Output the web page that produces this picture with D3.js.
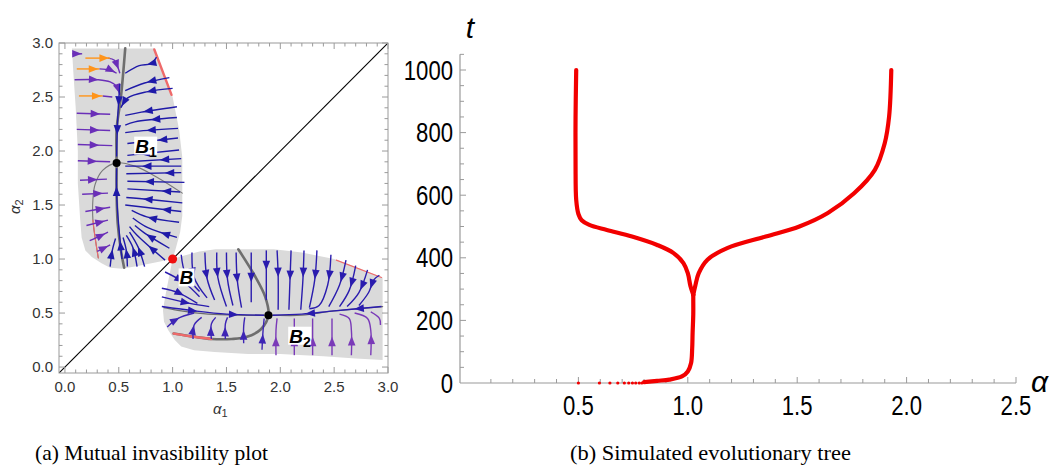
<!DOCTYPE html>
<html><head><meta charset="utf-8">
<script src="https://cdn.jsdelivr.net/npm/d3@7"></script>
<style>body{margin:0;background:#fff} svg{display:block} text{font-family:"Liberation Sans",Arial,sans-serif}</style>
</head><body><svg id="c" width="1052" height="465"></svg>
<script>
// ---------- Panel (a) data (alpha1, alpha2) ----------
const majorTicksA = [0, 0.5, 1.0, 1.5, 2.0, 2.5, 3.0];
const island = [[0.065,2.95],[0.83,2.95],[0.92,2.72],[1.0,2.5],[1.06,2.2],[1.09,1.94],[1.09,1.6],[1.09,1.4],[1.07,1.25],[1.03,1.1],[1.0,1.0],[0.85,0.97],[0.7,0.94],[0.53,0.91],[0.42,0.92],[0.34,0.96],[0.25,1.02],[0.19,1.08],[0.155,1.2],[0.14,1.39],[0.12,1.7],[0.12,2.0],[0.1,2.4],[0.08,2.7]];
const isoA = [[0.55,0.92],[0.52,1.08],[0.49,1.33],[0.48,1.6],[0.48,1.89],[0.48,2.2],[0.52,2.5],[0.56,2.95]];
const isoB = [[0.31,1.01],[0.28,1.2],[0.26,1.36],[0.26,1.55],[0.28,1.69],[0.35,1.82],[0.48,1.89],[0.65,1.86],[0.85,1.76],[1.09,1.61]];
const redA = [[0.83,2.94],[0.99,2.52]];
const redB = [[0.31,1.01],[0.28,1.2],[0.26,1.36]];
const singular = [[0.48,1.89],[1.89,0.48]];
const branchPoint = [1.0,1.0];
const pointLabels = [["B","1",0.75,2.05],["B","",1.13,0.83],["B","2",2.18,0.29]];

// streamlines: [points, arrow positions along length]
const orangeStreams = [
 [[[0.19,2.86],[0.42,2.86]],[0.95]],
 [[[0.11,2.76],[0.32,2.76]],[0.95]],
 [[[0.13,2.51],[0.35,2.51]],[0.95]]
];
const violetStreams = [
 [[[0.40,2.86],[0.46,2.84],[0.49,2.78],[0.51,2.72]],[0.8]],
 [[[0.32,2.76],[0.42,2.75],[0.48,2.72]],[0.9]],
 [[[0.35,2.51],[0.44,2.50]],[]],
 [[[0.07,2.90],[0.16,2.90]],[0.95]],
 [[[0.09,2.66],[0.31,2.66],[0.42,2.64],[0.48,2.60],[0.51,2.52]],[0.45,0.97]],
 [[[0.11,2.35],[0.42,2.34]],[0.7]],
 [[[0.11,2.20],[0.42,2.19]],[0.68]],
 [[[0.12,2.06],[0.44,2.05]],[0.62]],
 [[[0.12,1.91],[0.42,1.90]],[0.6]],
 [[[0.14,1.73],[0.39,1.74]],[0.65]],
 [[[0.16,1.60],[0.40,1.61]],[0.8]],
 [[[0.19,1.44],[0.42,1.48]],[0.8]],
 [[[0.20,1.31],[0.40,1.36]],[0.85]],
 [[[0.23,1.17],[0.32,1.21],[0.40,1.25]],[0.85]],
 [[[0.30,1.07],[0.36,1.10],[0.42,1.13]],[0.85]]
];
const blueTopStreams = [
 [[[0.85,2.87],[0.80,2.81],[0.69,2.79],[0.56,2.72]],[0.35]],
 [[[0.97,2.68],[0.74,2.63],[0.56,2.56]],[0.5]],
 [[[1.0,2.58],[0.77,2.55],[0.58,2.49],[0.52,2.40]],[0.45,0.97]],
 [[[1.04,2.41],[0.71,2.36],[0.56,2.33]],[0.65]],
 [[[1.04,2.31],[0.65,2.27],[0.56,2.24]],[0.5]],
 [[[1.05,2.21],[0.63,2.18],[0.56,2.17]],[0.6]],
 [[[1.05,2.12],[0.58,2.07]],[0.4]],
 [[[1.06,2.01],[0.58,1.96]],[0.75]],
 [[[1.08,1.93],[0.58,1.90]],[0.4]],
 [[[1.08,1.86],[0.56,1.86]],[0.7]],
 [[[1.08,1.80],[0.57,1.79]],[0.3]],
 [[[1.11,1.71],[0.58,1.72]],[0.7]],
 [[[1.07,1.62],[0.58,1.65]],[0.35]],
 [[[1.09,1.52],[0.69,1.56],[0.57,1.57]],[0.7]],
 [[[1.08,1.44],[0.56,1.50]],[0.35]],
 [[[1.06,1.34],[0.76,1.39],[0.62,1.45]],[0.65]],
 [[[1.04,1.20],[0.77,1.29],[0.63,1.38]],[0.35]],
 [[[0.97,1.10],[0.74,1.24],[0.65,1.31]],[0.65]],
 [[[0.93,0.99],[0.67,1.22],[0.60,1.30]],[0.45]],
 [[[0.74,0.93],[0.68,1.11],[0.60,1.25]],[0.55]],
 [[[0.67,0.93],[0.63,1.11],[0.57,1.22]],[0.6]],
 [[[0.58,0.93],[0.57,1.08],[0.54,1.20]],[0.6]],
 [[[0.42,0.93],[0.44,1.08],[0.47,1.19]],[0.6]],
 [[[0.51,2.62],[0.49,2.3],[0.48,1.95]],[0.3,0.7]],
 [[[0.53,1.0],[0.50,1.3],[0.48,1.6],[0.48,1.84]],[0.2,0.8]]
];
const blueBottomStreams = [
 [[[1.18,1.06],[1.2,0.83],[1.32,0.64]],[0.5]],
 [[[1.30,1.06],[1.32,0.82],[1.39,0.62]],[0.55]],
 [[[1.41,1.06],[1.42,0.83],[1.50,0.56]],[0.45]],
 [[[1.50,1.06],[1.51,0.81],[1.56,0.57]],[0.5]],
 [[[1.59,1.06],[1.60,0.81],[1.64,0.55]],[0.55]],
 [[[1.73,1.06],[1.73,0.76],[1.73,0.60]],[0.6]],
 [[[1.87,1.08],[1.87,0.9],[1.87,0.62]],[0.4]],
 [[[1.97,1.08],[1.98,0.85],[1.98,0.53]],[0.45]],
 [[[2.10,1.08],[2.09,0.81],[2.08,0.53]],[0.5]],
 [[[2.22,1.08],[2.21,0.81],[2.19,0.53]],[0.45]],
 [[[2.34,1.08],[2.32,0.81],[2.27,0.55]],[0.5]],
 [[[2.47,1.04],[2.44,0.76],[2.36,0.57],[2.27,0.54]],[0.4]],
 [[[2.61,0.99],[2.55,0.76],[2.45,0.56]],[0.45]],
 [[[2.70,0.94],[2.64,0.71],[2.55,0.56]],[0.5]],
 [[[2.81,0.90],[2.73,0.69],[2.62,0.56]],[0.5]],
 [[[2.92,0.85],[2.87,0.81],[2.82,0.69],[2.73,0.57]],[0.45]],
 [[[1.08,1.04],[1.12,0.86],[1.25,0.7]],[0.6]],
 [[[0.93,0.88],[1.11,0.78],[1.25,0.65]],[0.5]],
 [[[0.9,0.73],[1.05,0.69],[1.23,0.59]],[0.6]],
 [[[0.9,0.65],[1.16,0.59],[1.34,0.56]],[0.6]],
 [[[0.9,0.56],[1.2,0.52],[1.5,0.49],[1.85,0.48]],[0.35,0.75]],
 [[[2.94,0.56],[2.5,0.52],[2.2,0.49],[1.93,0.48]],[0.25,0.7]]
];
const indigoStreams = [
 [[[0.95,0.37],[1.05,0.45],[1.20,0.50]],[0.5]],
 [[[1.19,0.26],[1.20,0.39],[1.27,0.46]],[0.55]],
 [[[1.36,0.26],[1.36,0.40],[1.40,0.46]],[0.55]],
 [[[1.49,0.26],[1.49,0.40],[1.51,0.46]],[0.55]],
 [[[1.66,0.22],[1.66,0.38],[1.67,0.46]],[0.5]],
 [[[1.83,0.16],[1.84,0.34],[1.85,0.45]],[0.5]]
];
const purpleStreams = [
 [[[1.96,0.11],[1.96,0.34],[1.97,0.45]],[0.5]],
 [[[2.13,0.11],[2.13,0.34],[2.13,0.45]],[0.5]],
 [[[2.30,0.11],[2.30,0.34],[2.30,0.45]],[0.5]],
 [[[2.48,0.11],[2.48,0.34],[2.48,0.45]],[0.5]],
 [[[2.66,0.11],[2.66,0.34],[2.64,0.45],[2.55,0.49]],[0.4]],
 [[[2.84,0.11],[2.84,0.34],[2.81,0.45],[2.69,0.50]],[0.4]],
 [[[2.93,0.39],[2.92,0.45],[2.84,0.51]],[]]
];

// ---------- Panel (b) data (alpha, t) ----------
const majorTicksT = [0, 200, 400, 600, 800, 1000];
const majorTicksAlpha = [0.5, 1.0, 1.5, 2.0, 2.5];
const startDots = [0.5, 0.596, 0.644, 0.68, 0.71, 0.73, 0.747, 0.762, 0.778, 0.79];
const trunk = [[0.80,3],[0.86,7],[0.916,11],[0.973,21],[1.0,37],[1.015,64],[1.02,110],[1.022,160],[1.025,220],[1.025,266],[1.025,282]];
const leftBranch = [[1.025,282],[1.012,310],[1.0,351],[0.98,383],[0.935,415],[0.86,441],[0.745,468],[0.63,489],[0.55,505],[0.515,520],[0.50,540],[0.49,585],[0.487,700],[0.487,850],[0.49,1000]];
const rightBranch = [[1.025,282],[1.034,310],[1.05,351],[1.09,394],[1.18,431],[1.356,468],[1.51,500],[1.64,543],[1.76,606],[1.855,681],[1.90,766],[1.92,851],[1.93,1000]];

const svg = d3.select("#c");

// ================= Panel (a) =================
const xL = d3.scaleLinear().domain([-0.055,3.0]).range([59,388]);
const yL = d3.scaleLinear().domain([-0.055,3.0]).range([373,43]);
const P = p => [xL(p[0]), yL(p[1])];
const swap = p => [p[1], p[0]];

svg.append("clipPath").attr("id","clipA").append("rect")
  .attr("x",59).attr("y",43).attr("width",329).attr("height",330);
const gA = svg.append("g").attr("clip-path","url(#clipA)");

const closed = d3.line().curve(d3.curveLinearClosed);
gA.append("path").attr("d", closed(island.map(P))).attr("fill","#dadada");
gA.append("path").attr("d", closed(island.map(swap).map(P))).attr("fill","#dadada");

const smooth = d3.line().curve(d3.curveCatmullRom.alpha(0.5));
function curve(pts, color, w){
  gA.append("path").attr("d", smooth(pts.map(P))).attr("fill","none")
    .attr("stroke",color).attr("stroke-width",w).attr("stroke-linecap","round");
}
curve(isoA, "#6e6e6e", 2.6);
curve(isoB, "#7a7a7a", 1.1);
curve(redA, "#ef6a6a", 2.4);
curve(redB, "#ef6a6a", 1.1);
curve(isoA.map(swap), "#6e6e6e", 1.3);
curve(isoB.map(swap), "#6e6e6e", 2.6);
curve(redA.map(swap), "#ef6a6a", 1.1);
curve(redB.map(swap), "#ef6a6a", 2.4);

gA.append("line").attr("x1",xL(-0.055)).attr("y1",yL(-0.055)).attr("x2",xL(3.0)).attr("y2",yL(3.0))
  .attr("stroke","#000").attr("stroke-width",1.1);

function streams(list, color){
  list.forEach(([pts, fr])=>{
    const path = gA.append("path").attr("d", smooth(pts.map(P))).attr("fill","none")
      .attr("stroke",color).attr("stroke-width",1.4);
    const node = path.node(), L = node.getTotalLength();
    fr.forEach(f=>{
      const l = Math.max(4, Math.min(L, f*L));
      const a = node.getPointAtLength(Math.max(0,l-4)), b = node.getPointAtLength(l);
      let dx = b.x-a.x, dy = b.y-a.y; const n = Math.hypot(dx,dy)||1; dx/=n; dy/=n;
      const len = 9.5, hw = 3.8;
      const bx = b.x - dx*len, by = b.y - dy*len;
      gA.append("path").attr("d", `M${b.x},${b.y}L${bx - dy*hw},${by + dx*hw}L${bx + dy*hw},${by - dx*hw}Z`)
        .attr("fill", color);
    });
  });
}
streams(violetStreams, "#6a2fb8");
streams(orangeStreams, "#ff9419");
streams(blueTopStreams, "#1f1aa8");
streams(blueBottomStreams, "#2a1cae");
streams(indigoStreams, "#3d25b5");
streams(purpleStreams, "#7a3ab8");

gA.selectAll("circle.s").data(singular).join("circle")
  .attr("cx",d=>xL(d[0])).attr("cy",d=>yL(d[1])).attr("r",4).attr("fill","#000");
gA.append("circle").attr("cx",xL(branchPoint[0])).attr("cy",yL(branchPoint[1])).attr("r",4.5).attr("fill","#f01010");

pointLabels.forEach(([b,s,a1,a2])=>{
  const w = s ? 23 : 16;
  gA.append("rect").attr("x",xL(a1)-w/2).attr("y",yL(a2)-9).attr("width",w).attr("height",18).attr("fill","#fff");
  const t = gA.append("text").attr("x",xL(a1)-w/2+1).attr("y",yL(a2)+7)
    .attr("font-size",19).attr("font-weight","bold").attr("font-style","italic");
  t.append("tspan").text(b);
  if (s) t.append("tspan").attr("dy",4).attr("font-size",14).attr("font-style","normal").text(s);
});

svg.append("rect").attr("x",59).attr("y",43).attr("width",329).attr("height",330)
  .attr("fill","none").attr("stroke","#9a9a9a").attr("stroke-width",1);
const minorA = d3.range(0, 3.001, 0.1).filter(v=>Math.abs(v*2-Math.round(v*2))>1e-6);
const tg = svg.append("g").attr("stroke","#9a9a9a").attr("stroke-width",1);
[[majorTicksA,6],[minorA,3.5]].forEach(([vals,len])=>{
  vals.forEach(v=>{
    tg.append("line").attr("x1",xL(v)).attr("x2",xL(v)).attr("y1",373).attr("y2",373-len);
    tg.append("line").attr("x1",xL(v)).attr("x2",xL(v)).attr("y1",43).attr("y2",43+len);
    tg.append("line").attr("y1",yL(v)).attr("y2",yL(v)).attr("x1",59).attr("x2",59+len);
    tg.append("line").attr("y1",yL(v)).attr("y2",yL(v)).attr("x1",388).attr("x2",388-len);
  });
});
const fmt = d3.format(".1f");
svg.selectAll("text.xa").data(majorTicksA).join("text").attr("class","xa")
  .attr("x",d=>xL(d)).attr("y",392).attr("text-anchor","middle").attr("font-size",15).attr("fill","#333").text(fmt);
svg.selectAll("text.ya").data(majorTicksA).join("text").attr("class","ya")
  .attr("x",53).attr("y",d=>yL(d)+5).attr("text-anchor","end").attr("font-size",15).attr("fill","#333").text(fmt);
const ax1 = svg.append("text").attr("x",213).attr("y",414).attr("font-size",15).attr("fill","#333");
ax1.append("tspan").attr("font-style","italic").text("α");
ax1.append("tspan").attr("dy",3).attr("font-size",11).text("1");
const ax2 = svg.append("text").attr("transform","translate(20,214) rotate(-90)").attr("font-size",15).attr("fill","#333");
ax2.append("tspan").attr("font-style","italic").text("α");
ax2.append("tspan").attr("dy",3).attr("font-size",11).text("2");

// ================= Panel (b) =================
const xR = d3.scaleLinear().domain([0,2.5]).range([469,1016]);
const yR = d3.scaleLinear().domain([0,1000]).range([383,70]);
const axisX0 = 460;
const gB = svg.append("g");
gB.append("line").attr("x1",axisX0).attr("x2",axisX0).attr("y1",yR(0)).attr("y2",yR(1050)).attr("stroke","#9a9a9a").attr("stroke-width",1.2);
gB.append("line").attr("x1",axisX0).attr("x2",xR(2.5)).attr("y1",yR(0)).attr("y2",yR(0)).attr("stroke","#9a9a9a").attr("stroke-width",1.2);
d3.range(50,1051,50).forEach(v=>{
  const len = (v%200===0)?6:4;
  gB.append("line").attr("x1",axisX0).attr("x2",axisX0+len).attr("y1",yR(v)).attr("y2",yR(v)).attr("stroke","#9a9a9a");
});
d3.range(1,26).forEach(i=>{
  const v=i/10, len=(i%5===0)?6:4;
  gB.append("line").attr("x1",xR(v)).attr("x2",xR(v)).attr("y1",yR(0)).attr("y2",yR(0)-len).attr("stroke","#9a9a9a");
});
gB.selectAll("text.yt").data(majorTicksT).join("text").attr("class","yt")
  .attr("transform",d=>`translate(453,${yR(d)+9.5}) scale(0.82,1)`).attr("text-anchor","end")
  .attr("font-size",27).attr("fill","#000").text(d=>d);
gB.selectAll("text.xt").data(majorTicksAlpha).join("text").attr("class","xt")
  .attr("transform",d=>`translate(${xR(d)},415) scale(0.82,1)`).attr("text-anchor","middle")
  .attr("font-size",27).attr("fill","#000").text(fmt);
gB.append("text").attr("x",470).attr("y",38).attr("text-anchor","middle").attr("font-size",30).attr("font-style","italic").text("t");
gB.append("text").attr("x",1031).attr("y",392).attr("font-size",30).attr("font-style","italic").text("α");

const treeLine = d3.line().x(d=>xR(d[0])).y(d=>yR(d[1])).curve(d3.curveCatmullRom.alpha(0.5));
[trunk, leftBranch, rightBranch].forEach(br=>{
  gB.append("path").attr("d",treeLine(br)).attr("fill","none").attr("stroke","#f20000")
    .attr("stroke-width",4.2).attr("stroke-linecap","round").attr("stroke-linejoin","round");
});
gB.selectAll("circle.d").data(startDots).join("circle").attr("cx",d=>xR(d)).attr("cy",yR(0)).attr("r",1.6).attr("fill","#f20000");

// captions
svg.append("text").attr("x",35).attr("y",460).attr("font-size",22).attr("textLength",233).attr("lengthAdjust","spacingAndGlyphs")
  .style("font-family","'Liberation Serif','Times New Roman',serif").text("(a)  Mutual invasibility plot");
svg.append("text").attr("x",570).attr("y",460).attr("font-size",22).attr("textLength",281).attr("lengthAdjust","spacingAndGlyphs")
  .style("font-family","'Liberation Serif','Times New Roman',serif").text("(b)  Simulated evolutionary tree");
</script></body></html>
